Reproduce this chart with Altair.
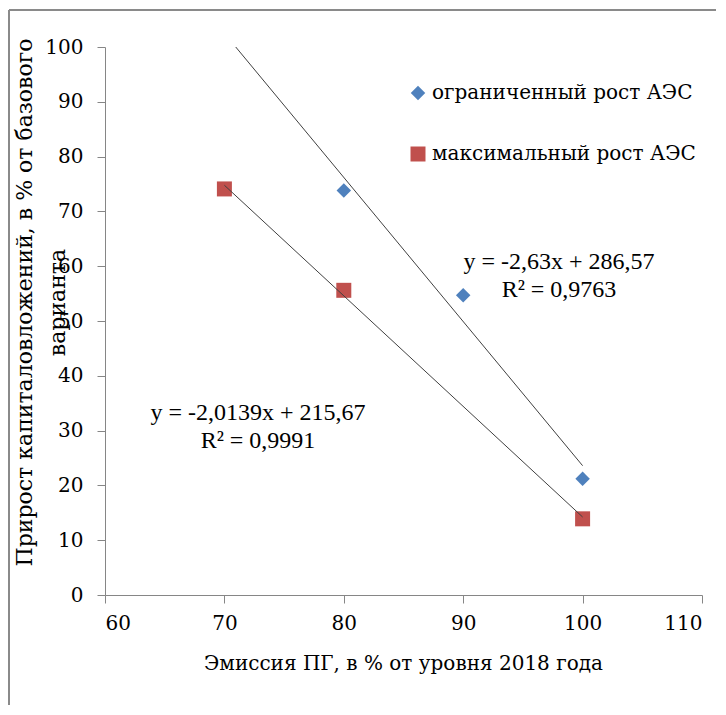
import altair as alt
import pandas as pd

# ---- data ----
series_names = ["ограниченный рост АЭС", "максимальный  рост АЭС"]
series_colors = ["#4F81BD", "#C0504D"]
series_shapes = ["diamond", "square"]

x_limited = [80, 90, 100]
y_limited = [73.8, 54.7, 21.2]

x_maximal = [70, 80, 100]
y_maximal = [74.1, 55.6, 13.9]

x_ticks = [60, 70, 80, 90, 100, 110]
y_ticks = [0, 10, 20, 30, 40, 50, 60, 70, 80, 90, 100]

eq_limited = ["y = -2,63x + 286,57", "R² = 0,9763"]
eq_maximal = ["y = -2,0139x  + 215,67", "R² = 0,9991"]

x_title = "Эмиссия ПГ, в % от уровня 2018 года"
y_title = ["Прирост  капиталовложений,  в % от базового", "варианта"]

# ---- table ----
rows = []
for xv, yv in zip(x_limited, y_limited):
    rows.append({"x": xv, "y": yv, "series": series_names[0]})
for xv, yv in zip(x_maximal, y_maximal):
    rows.append({"x": xv, "y": yv, "series": series_names[1]})
df = pd.DataFrame(rows)

FONT = "Liberation Serif"
GFONT = "DejaVu Serif"
AXC = "#868686"

x_scale = alt.Scale(domain=[60, 110], nice=False, zero=False)
y_scale = alt.Scale(domain=[0, 100], nice=False)

x_axis = alt.Axis(values=x_ticks, format="d", grid=False, tickSize=8,
                  domainColor=AXC, tickColor=AXC,
                  labelFont=GFONT, labelFontSize=20, labelColor="black",
                  titleFont=GFONT, titleFontSize=20, titleFontWeight="normal", titleColor="black",
                  labelPadding=10, title=x_title, titleBaseline="alphabetic",
                  titleX=298, titleY=74, titleAlign="center")
y_axis = alt.Axis(values=y_ticks, format="d", grid=False, tickSize=8,
                  domainColor=AXC, tickColor=AXC,
                  labelFont=GFONT, labelFontSize=20, labelColor="black",
                  titleFont=GFONT, titleFontSize=22, titleFontWeight="normal", titleColor="black",
                  labelPadding=14, title=y_title, titleAngle=270,
                  titleBaseline="alphabetic", titleAlign="center", titleX=-74, titleY=255,
                  titleLineHeight=33)

legend = alt.Legend(title=None, orient="none", legendX=303, legendY=36,
                    rowPadding=41, symbolSize=190, labelOffset=4, padding=0,
                    symbolStrokeWidth=0, labelLimit=0,
                    labelFont=GFONT, labelFontSize=20, labelColor="black")

points = alt.Chart(df).mark_point(filled=True, opacity=1, strokeWidth=0).encode(
    x=alt.X("x:Q", scale=x_scale, axis=x_axis),
    y=alt.Y("y:Q", scale=y_scale, axis=y_axis),
    color=alt.Color("series:N", scale=alt.Scale(domain=series_names, range=series_colors), legend=legend),
    shape=alt.Shape("series:N", scale=alt.Scale(domain=series_names, range=series_shapes), legend=legend),
    size=alt.Size("series:N", scale=alt.Scale(domain=series_names, range=[210, 225]), legend=None),
)

trend = alt.Chart(df).transform_regression(
    "x", "y", groupby=["series"], extent=[70, 100]
).mark_line(color="#404040", strokeWidth=1, clip=True).encode(
    x=alt.X("x:Q", scale=x_scale, axis=x_axis),
    y=alt.Y("y:Q", scale=y_scale, axis=y_axis),
    detail="series:N",
)

def eq_text(lines, cx, cy):
    layers = []
    for i, line in enumerate(lines):
        layers.append(
            alt.Chart().mark_text(text=line, font=FONT, fontSize=24, color="black",
                                  align="center", baseline="middle").encode(
                x=alt.value(cx), y=alt.value(cy + 28 * i))
        )
    return layers

eqs = eq_text(eq_limited, 454, 215) + eq_text(eq_maximal, 153, 366)

frame_top = alt.Chart().mark_rule(color="#8a8a8a", strokeWidth=2, clip=False).encode(
    x=alt.value(-96), x2=alt.value(611), y=alt.value(-37))
frame_left = alt.Chart().mark_rule(color="#8a8a8a", strokeWidth=2, clip=False).encode(
    x=alt.value(-96), y=alt.value(-37), y2=alt.value(660))

chart = alt.layer(points, trend, *eqs, frame_top, frame_left).properties(
    width=597, height=548,
    autosize=alt.AutoSizeParams(type="none"),
    padding={"left": 97, "top": 39, "right": 14, "bottom": 110},
    background="white",
).configure_view(stroke=None)

chart.save("out.html", embed_options={"renderer": "svg", "actions": False})
